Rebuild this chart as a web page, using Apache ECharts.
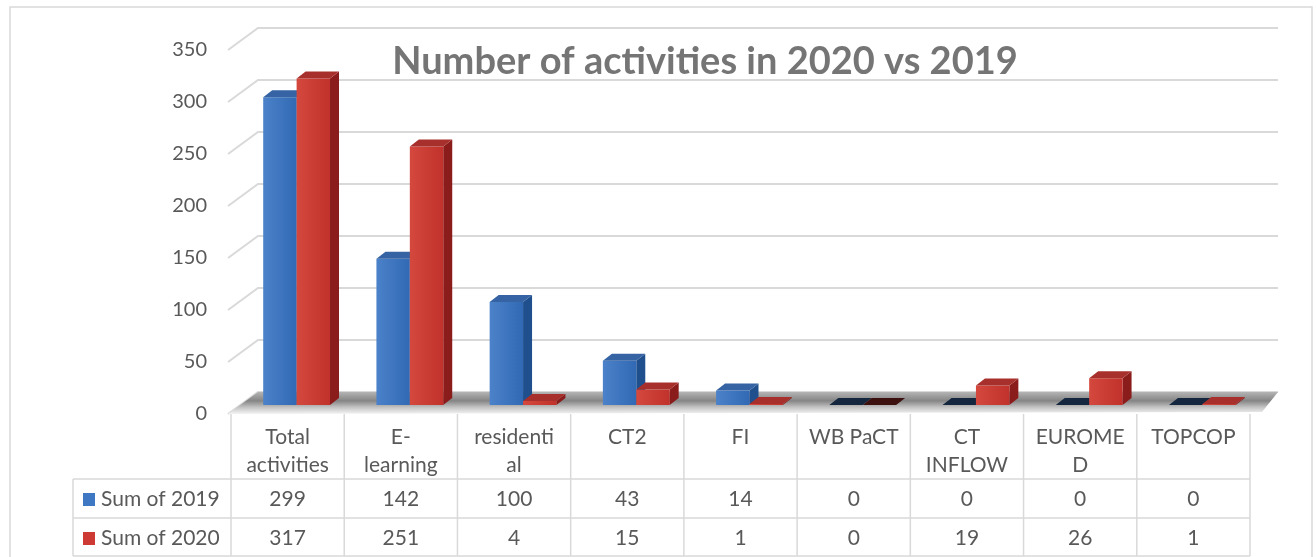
<!DOCTYPE html>
<html>
<head>
<meta charset="utf-8">
<script src="https://cdn.jsdelivr.net/npm/echarts@6/dist/echarts.min.js"></script>
<style>
  html, body { margin: 0; padding: 0; background: #fff; }
  #container { width: 1316px; height: 557px; }
</style>
</head>
<body>
<div id="container"></div>
<script>
const categories = ['Total activities', 'E-learning', 'residential', 'CT2', 'FI', 'WB PaCT', 'CT INFLOW', 'EUROMED', 'TOPCOP'];
// header text as wrapped in the data table
const headerLabels = ['Total\nactivities', 'E-\nlearning', 'residenti\nal', 'CT2', 'FI', 'WB PaCT', 'CT\nINFLOW', 'EUROME\nD', 'TOPCOP'];
const seriesNames = ['Sum of 2019', 'Sum of 2020'];
const sum2019 = [299, 142, 100, 43, 14, 0, 0, 0, 0];
const sum2020 = [317, 251, 4, 15, 1, 0, 19, 26, 1];
const yTicks = [0, 50, 100, 150, 200, 250, 300, 350];

const FONT = 'Lato, "Open Sans", sans-serif';
const TEXT = '#595959';
const LINE = '#d9d9d9';
const GRID_LEFT = 231, GRID_RIGHT = 66, GRID_TOP = 50, GRID_BOTTOM = 143;
const WALL_X = 27, WALL_Y = 22;   // back wall offset
const SHIFT_X = 9, SHIFT_Y = 9;   // bars sit a bit behind the front plane
const DX = 9, DY = 7;             // bar depth

const blue = {
  front: new echarts.graphic.LinearGradient(0, 0, 1, 0, [{offset: 0, color: '#4b82c9'}, {offset: 1, color: '#3169b4'}]),
  side: '#1f4f8c', top: '#3563a3', zero: '#14273f'
};
const red = {
  front: new echarts.graphic.LinearGradient(0, 0, 1, 0, [{offset: 0, color: '#d4483e'}, {offset: 1, color: '#c0322b'}]),
  side: '#8a1d1c', top: '#a8302c', zero: '#3d1010'
};

function barRenderer(side, colors) {
  return function (params, api) {
    const i = api.value(0), v = api.value(1);
    const base = api.coord([i, 0]);
    const top = api.coord([i, v]);
    const w = api.size([1, 0])[0] * 0.295;
    const x0 = base[0] + SHIFT_X + (side < 0 ? -w : 0);
    const x1 = x0 + w;
    const yb = base[1] - SHIFT_Y;
    const yt = yb - (base[1] - top[1]) * 0.99;
    const children = [];
    if (v > 0) {
      children.push({type: 'polygon', shape: {points: [[x1, yb], [x1 + DX, yb - DY], [x1 + DX, yt - DY], [x1, yt]]}, style: {fill: colors.side}});
      children.push({type: 'rect', shape: {x: x0, y: yt, width: w, height: yb - yt}, style: {fill: colors.front}});
    }
    children.push({type: 'polygon', shape: {points: [[x0, yt], [x0 + DX, yt - DY], [x1 + DX, yt - DY], [x1, yt]]},
      style: {fill: v > 0 ? colors.top : colors.zero}});
    return {type: 'group', children};
  };
}

function gridRenderer(params, api) {
  const cs = params.coordSys;
  const y = api.coord([0, api.value(1)])[1];
  return {
    type: 'polyline',
    shape: {points: [[cs.x - 3, y], [cs.x + WALL_X, y - WALL_Y], [cs.x + cs.width + WALL_X + 1, y - WALL_Y]]},
    style: {stroke: LINE, lineWidth: 2, fill: null}
  };
}

function floorRenderer(params, api) {
  const cs = params.coordSys;
  const y = api.coord([0, 0])[1];
  return {
    type: 'polygon',
    shape: {points: [[cs.x - 3, y], [cs.x + WALL_X, y - WALL_Y], [cs.x + cs.width + WALL_X + 1, y - WALL_Y], [cs.x + cs.width + 12, y - 2]]},
    style: {
      fill: new echarts.graphic.LinearGradient(0, 0, 0, 1, [
        {offset: 0, color: '#b4b4b4'}, {offset: 0.4, color: '#858585'},
        {offset: 0.72, color: '#c8c8c8'}, {offset: 1, color: '#f4f4f4'}
      ])
    }
  };
}

const myChart = echarts.init(document.getElementById('container'));
const option = {
  animation: false,
  grid: {left: GRID_LEFT, right: GRID_RIGHT, top: GRID_TOP, bottom: GRID_BOTTOM},
  xAxis: {
    type: 'category', data: categories,
    axisLine: {show: false}, axisTick: {show: false}, axisLabel: {show: false}
  },
  yAxis: {
    type: 'value', min: 0, max: 350, interval: 50,
    axisLine: {show: false}, axisTick: {show: false}, splitLine: {show: false},
    axisLabel: {fontFamily: FONT, fontSize: 20, color: TEXT, margin: 24}
  },
  series: [
    {type: 'custom', name: 'grid', z: 1, silent: true, data: yTicks.map(v => [0, v]), renderItem: gridRenderer},
    {type: 'custom', name: 'floor', z: 2, silent: true, data: [[0, 0]], renderItem: floorRenderer},
    {type: 'custom', name: seriesNames[0], z: 3, data: sum2019.map((v, i) => [i, v]), renderItem: barRenderer(-1, blue)},
    {type: 'custom', name: seriesNames[1], z: 4, data: sum2020.map((v, i) => [i, v]), renderItem: barRenderer(1, red)}
  ]
};
myChart.setOption(option);

// data table under the plot, positioned from the category axis
const colW = (1316 - GRID_LEFT - GRID_RIGHT) / categories.length;
const tableTop = 414, row1 = 479, row2 = 518, tableBottom = 556, legendLeft = 73;
const tableRight = GRID_LEFT + colW * categories.length;
const els = [];
const line = (x1, y1, x2, y2) => els.push({type: 'line', shape: {x1, y1, x2, y2}, style: {stroke: LINE, lineWidth: 1.5}});
const text = (x, y, t, align) => els.push({type: 'text', x, y, style: {text: t, font: '21px ' + FONT, fill: TEXT, align: align || 'center', verticalAlign: 'middle', lineHeight: 28}});

for (let k = 0; k <= categories.length; k++) line(GRID_LEFT + k * colW, tableTop, GRID_LEFT + k * colW, tableBottom);
line(legendLeft, row1, legendLeft, tableBottom);
[row1, row2, tableBottom].forEach(y => line(legendLeft, y, tableRight, y));
categories.forEach((c, i) => {
  const cx = myChart.convertToPixel({xAxisIndex: 0}, i);
  els.push({type: 'text', x: cx, y: 423, style: {text: headerLabels[i], font: '21px ' + FONT, fill: TEXT, align: 'center', verticalAlign: 'top', lineHeight: 28}});
  text(cx, 499, String(sum2019[i]));
  text(cx, 538, String(sum2020[i]));
});
[[seriesNames[0], '#3f78c2', 499], [seriesNames[1], '#cc3a33', 538]].forEach(([name, color, y]) => {
  els.push({type: 'rect', shape: {x: 83, y: y - 6, width: 12, height: 13}, style: {fill: color}});
  text(101, y, name, 'left');
});
els.push({type: 'rect', shape: {x: 10, y: 7, width: 1302, height: 560}, style: {fill: null, stroke: LINE, lineWidth: 1.5}});
els.push({type: 'text', x: 705, y: 62, style: {text: 'Number of activities in 2020 vs 2019', font: 'bold 38px ' + FONT, fill: '#757575', align: 'center', verticalAlign: 'middle'}});
myChart.setOption({graphic: {elements: els}});

window.addEventListener('resize', () => {
  myChart.resize()
})
</script>
</body>
</html>
